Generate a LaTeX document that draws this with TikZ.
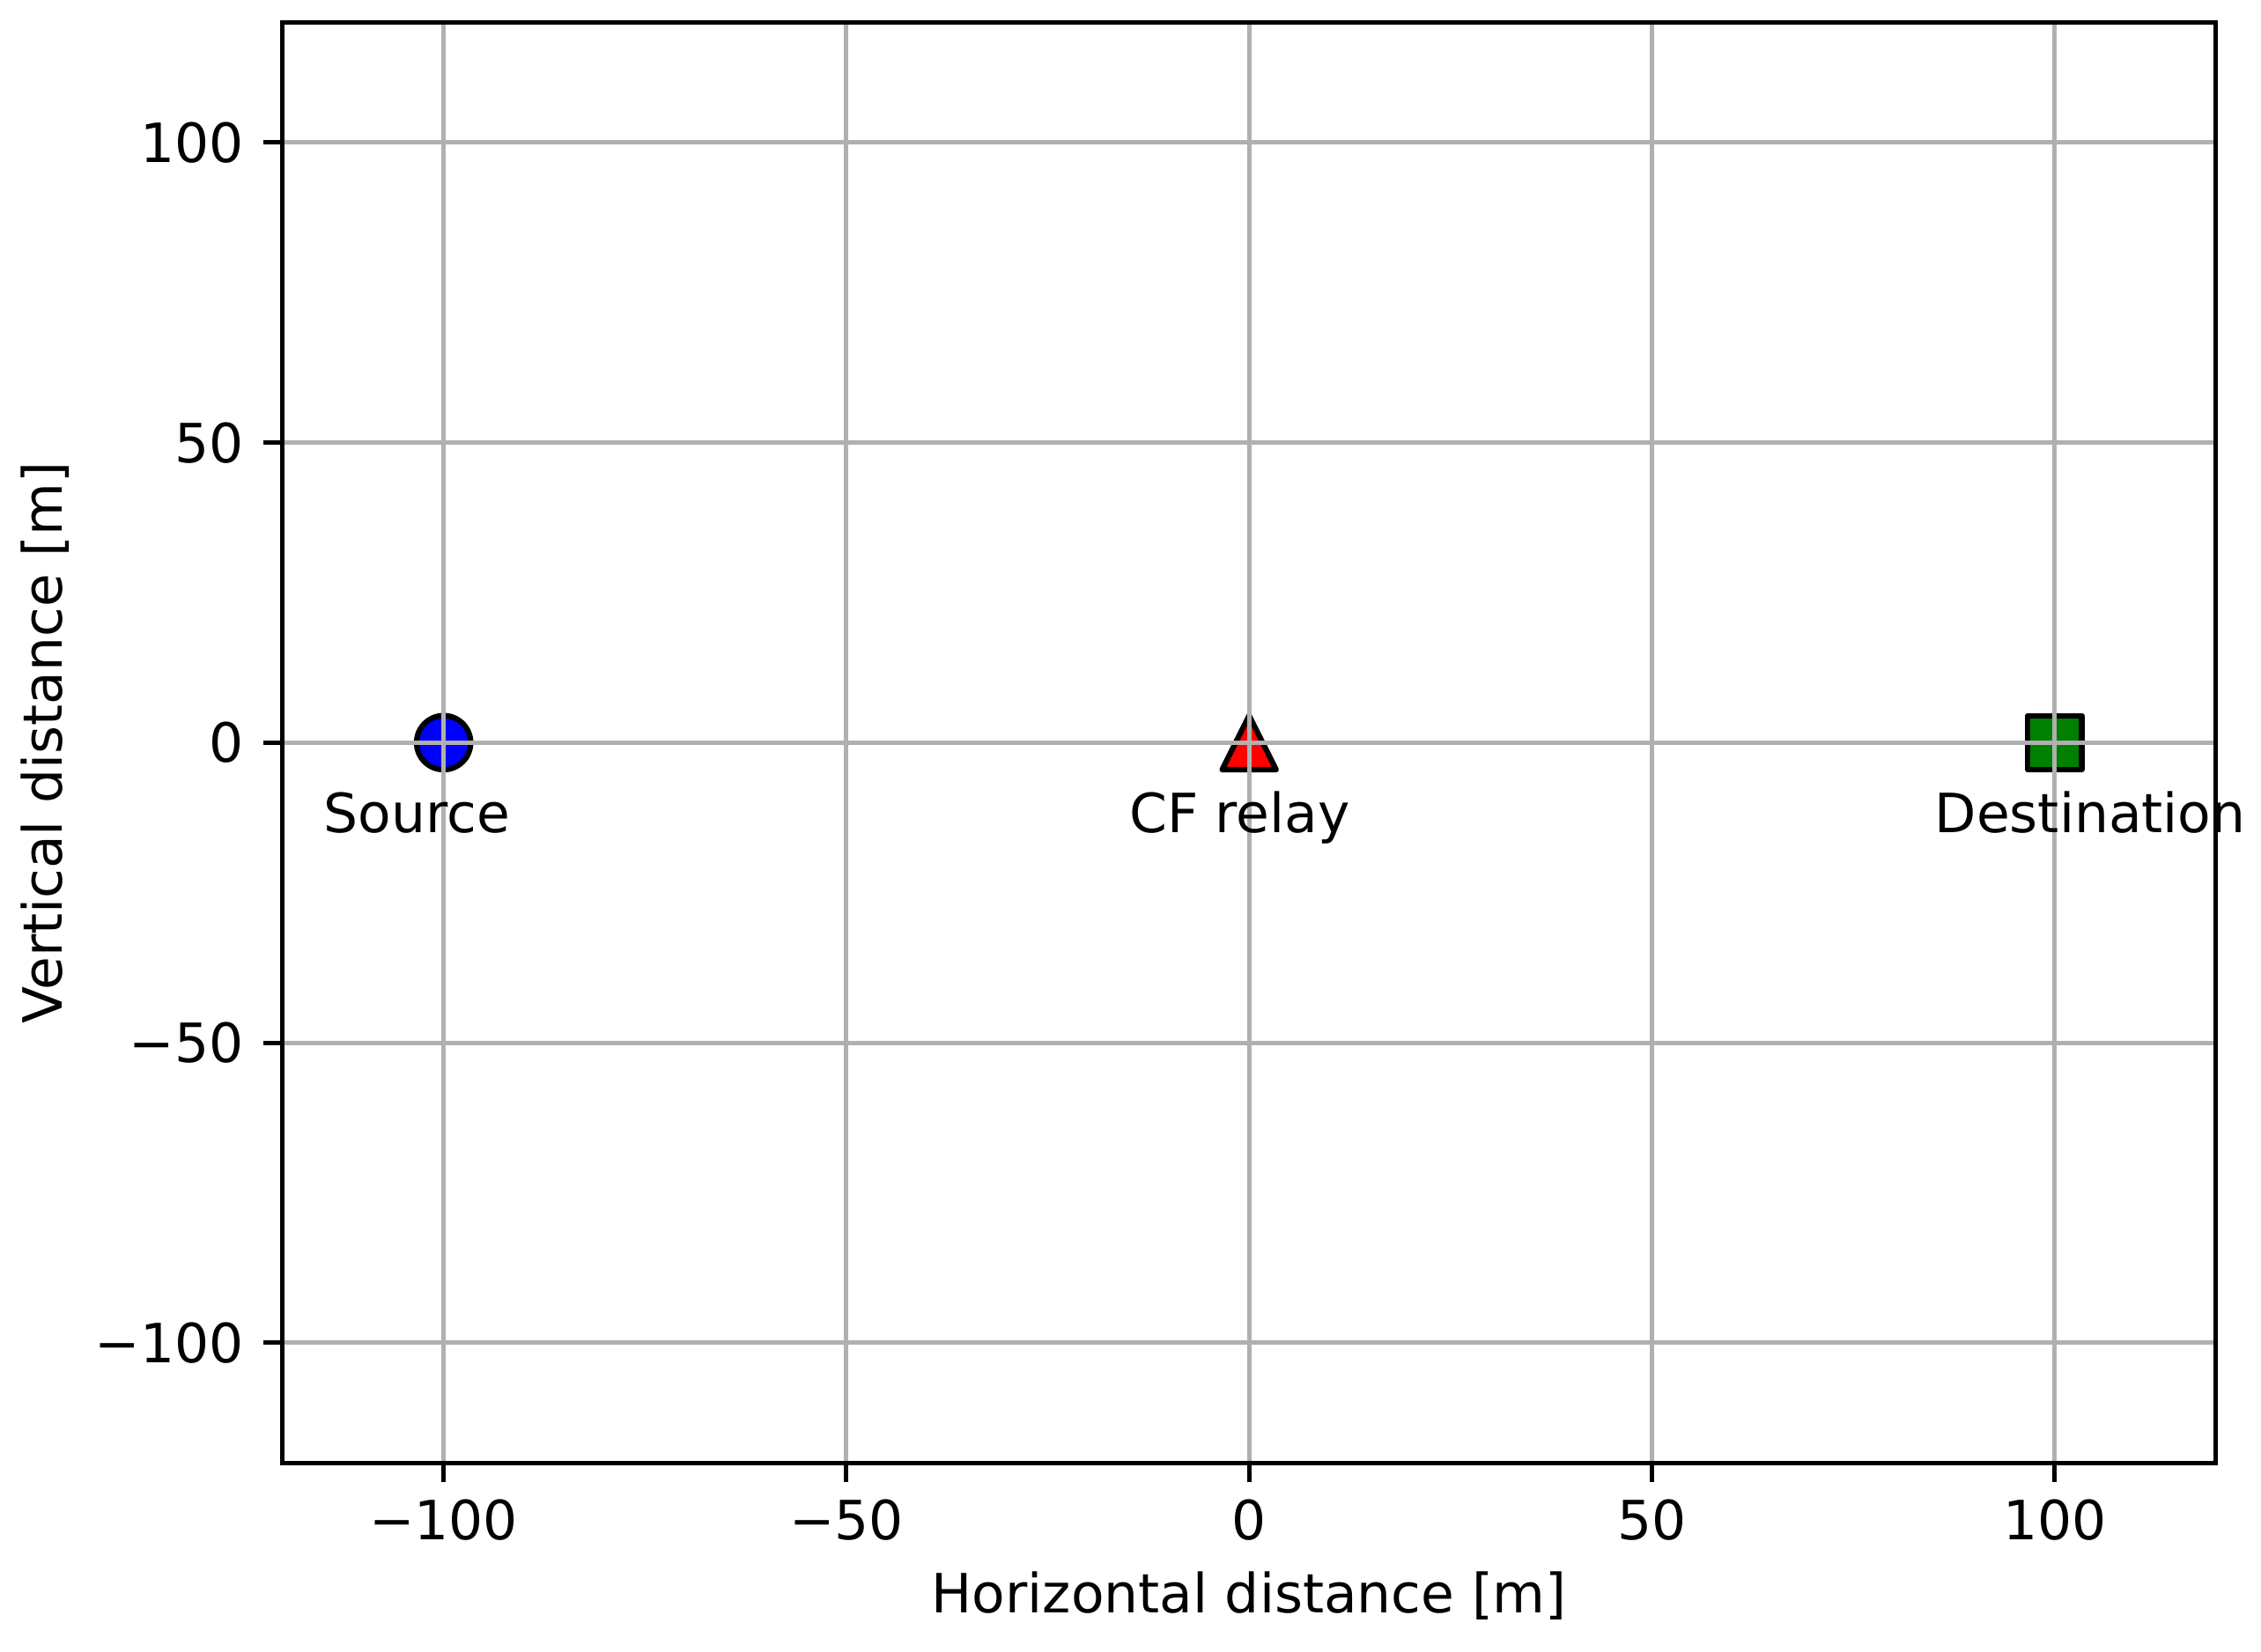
\documentclass[tikz,border=0pt]{standalone}
\usepackage{fontspec}
\setmainfont{DejaVu Sans}
\definecolor{gridgray}{HTML}{B0B0B0}
\definecolor{mplgreen}{RGB}{0,128,0}
\tikzset{
  gridline/.style={draw=gridgray, line width=0.8pt},
  spine/.style={draw=black, line width=0.8pt, line cap=rect},
  tickmark/.style={draw=black, line width=0.8pt},
  ticklab/.style={inner sep=0pt, font=\fontsize{10pt}{12pt}\selectfont},
  marker/.style={draw=black, line width=1pt, line join=round},
  axlabel/.style={inner sep=0pt, font=\fontsize{10pt}{12pt}\selectfont},
}
\begin{document}
\begin{tikzpicture}[x=1pt,y=1pt]
\useasboundingbox[fill=white] (0,0) rectangle (417.67,305.08);
\begin{scope}[shift={(230.75,167.86)}, x=1.4880pt, y=1.10879pt]
  % positions
  \coordinate (src) at (-100,0);
  \coordinate (rel) at (0,0);
  \coordinate (dst) at (100,0);
  % markers
  \path[marker, fill=blue] (src) circle[radius=5pt];
  \path[marker, fill=red] ([shift={(0pt,5pt)}]rel) -- ([shift={(-5pt,-5pt)}]rel) -- ([shift={(5pt,-5pt)}]rel) -- cycle;
  \path[marker, fill=mplgreen] ([shift={(-5pt,-5pt)}]dst) rectangle ([shift={(5pt,5pt)}]dst);
  % grid
  \foreach \v in {-100,-50,0,50,100} {
    \draw[gridline] (\v,-120) -- (\v,120);
    \draw[gridline] (-120,\v) -- (120,\v);
  }
  % spines
  \draw[spine] (-120,-120) rectangle (120,120);
  % ticks and labels
  \foreach \v/\t in {-100/{−100},-50/{−50},0/{0},50/{50},100/{100}} {
    \draw[tickmark] (\v,-120) -- ++(0,-3.5pt);
    \draw[tickmark] (-120,\v) -- ++(-3.5pt,0);
    \node[ticklab, anchor=base] (xt\v) at ([yshift=-14.2pt]\v,-120) {\t};
    \node[ticklab, anchor=base east] (yt\v) at ([xshift=-7pt,yshift=-3.65pt]-120,\v) {\t};
  }
  % point labels
  \node[axlabel, anchor=base west] (lsrc) at (-115,-15) {Source};
  \node[axlabel, anchor=base west] (lrel) at (-15,-15) {CF relay};
  \node[axlabel, anchor=base west] (ldst) at (85,-15) {Destination};
  % axis labels
  \node[axlabel, anchor=base] (xlab) at ([yshift=-27.8pt]0,-120) {Horizontal distance [m]};
\end{scope}
\node[axlabel, anchor=base, rotate=90] (ylab) at (11.39,167.86) {Vertical distance [m]};
\end{tikzpicture}
\end{document}
